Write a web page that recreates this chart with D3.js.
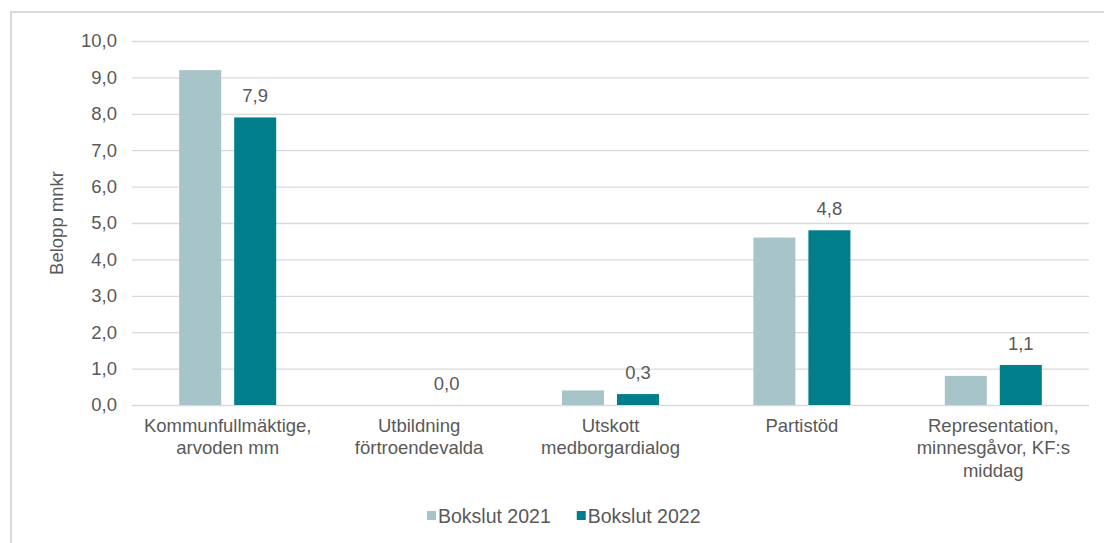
<!DOCTYPE html>
<html><head><meta charset="utf-8">
<script src="https://cdn.jsdelivr.net/npm/d3@7"></script>
<style>body{margin:0;background:#fff}svg{display:block;font-family:"Liberation Sans",Arial,sans-serif}</style>
</head><body><svg id="c" width="1104" height="543"></svg>
<script>
const categories = ["Kommunfullmäktige,\narvoden mm","Utbildning\nförtroendevalda","Utskott\nmedborgardialog","Partistöd","Representation,\nminnesgåvor, KF:s\nmiddag"];
const seriesNames = ["Bokslut 2021","Bokslut 2022"];
const values2021 = [9.2, 0.0, 0.4, 4.6, 0.8];
const values2022 = [7.9, 0.0, 0.3, 4.8, 1.1];
const yTicks = [0,1,2,3,4,5,6,7,8,9,10];
const yLabel = "Belopp mnkr";
const colors = ["#A7C4C9","#007F8A"];

(function(){
const svg = d3.select("#c");
const textColor = "#595959";
const fs = 18.5;
const pLeft = 132, pRight = 1089, pTop = 41, pBottom = 405;

// chart border
svg.append("rect").attr("x",11).attr("y",12).attr("width",1200).attr("height",700)
  .attr("fill","none").attr("stroke","#D9D9D9").attr("stroke-width",2);

const y = d3.scaleLinear().domain([0,10]).range([pBottom, pTop]);
const x0 = d3.scaleBand().domain(categories).range([pLeft, pRight]).padding(0);
const groupW = 97;
const bw = x0.bandwidth();
const x1 = d3.scaleBand().domain(seriesNames).range([(bw-groupW)/2, (bw+groupW)/2]).paddingInner(0.236).paddingOuter(0);
const fmt = v => d3.format(".1f")(v).replace(".", ",");

// gridlines + tick labels via axis
const yAxis = d3.axisLeft(y).tickValues(yTicks).tickSize(-(pRight-pLeft)).tickPadding(15).tickFormat(fmt);
const gy = svg.append("g").attr("transform",`translate(${pLeft},0)`).call(yAxis);
gy.select(".domain").remove();
gy.selectAll(".tick line").attr("stroke","#D9D9D9").attr("stroke-width",1.3);
gy.selectAll(".tick text").attr("fill",textColor).attr("font-size",fs).attr("font-family","Liberation Sans, Arial, sans-serif");

// bars
const data = categories.map((c,i)=>({cat:c, vals:[values2021[i], values2022[i]]}));
const groups = svg.append("g").selectAll("g").data(data).join("g")
  .attr("transform", d=>`translate(${x0(d.cat)},0)`);
groups.selectAll("rect").data(d=>d.vals.map((v,j)=>({s:seriesNames[j], v, j}))).join("rect")
  .attr("x", d=>x1(d.s)).attr("width", x1.bandwidth())
  .attr("y", d=>y(d.v)).attr("height", d=>y(0)-y(d.v))
  .attr("fill", d=>colors[d.j]);

// data labels for 2022
groups.append("text")
  .attr("x", d=>x1(seriesNames[1]) + x1.bandwidth()/2)
  .attr("y", d=>y(d.vals[1]) - 15)
  .attr("text-anchor","middle").attr("fill",textColor).attr("font-size",fs)
  .text(d=>fmt(d.vals[1]));

// category labels
const xAxisG = svg.append("g");
categories.forEach(c=>{
  const t = xAxisG.append("text").attr("text-anchor","middle").attr("fill",textColor).attr("font-size",fs)
    .attr("x", x0(c)+bw/2).attr("y", 431.5);
  c.split("\n").forEach((line,k)=>{
    t.append("tspan").attr("x", x0(c)+bw/2).attr("dy", k===0?0:22.5).text(line);
  });
});

// y label
svg.append("text").attr("transform",`translate(63,${(pTop+pBottom)/2}) rotate(-90)`)
  .attr("text-anchor","middle").attr("fill",textColor).attr("font-size",fs).text(yLabel);

// legend
const leg = svg.append("g");
let lx = 427;
seriesNames.forEach((s,i)=>{
  leg.append("rect").attr("x",lx).attr("y",511).attr("width",9).attr("height",9).attr("fill",colors[i]);
  const t = leg.append("text").attr("x",lx+11).attr("y",523).attr("fill",textColor).attr("font-size",19.5).text(s);
  lx += 11 + t.node().getComputedTextLength() + 26;
});
})();
</script></body></html>
